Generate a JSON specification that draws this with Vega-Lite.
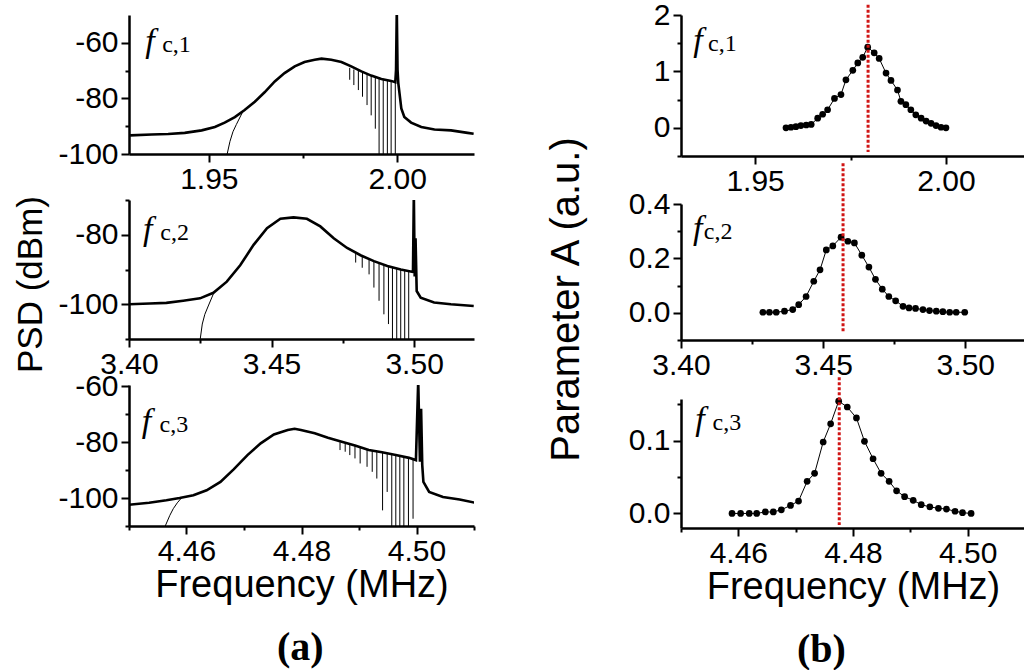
{
  "$schema": "https://vega.github.io/schema/vega-lite/v6.json",
  "padding": {"left": 12, "top": 0, "right": 0, "bottom": 0},
  "datasets": {
    "psd1": [
      {"f": 1.9291, "v": -93.3}, {"f": 1.9348, "v": -93.0}, {"f": 1.9392, "v": -92.8}, {"f": 1.9436, "v": -92.4},
      {"f": 1.9481, "v": -91.5}, {"f": 1.9516, "v": -90.3}, {"f": 1.9542, "v": -88.7}, {"f": 1.9569, "v": -86.7},
      {"f": 1.9595, "v": -84.2}, {"f": 1.9622, "v": -81.2}, {"f": 1.9648, "v": -77.8}, {"f": 1.9675, "v": -73.9},
      {"f": 1.9701, "v": -70.9}, {"f": 1.9728, "v": -68.5}, {"f": 1.9754, "v": -66.9}, {"f": 1.9781, "v": -66.1},
      {"f": 1.9799, "v": -65.7}, {"f": 1.9825, "v": -66.1}, {"f": 1.9852, "v": -66.9}, {"f": 1.9878, "v": -68.5},
      {"f": 1.9905, "v": -70.3}, {"f": 1.9931, "v": -71.8}, {"f": 1.9958, "v": -73.0}, {"f": 1.9984, "v": -73.7},
      {"f": 1.9995, "v": -74.2}, {"f": 1.9997, "v": -69.7}, {"f": 1.9999, "v": -48}, {"f": 2.0001, "v": -69.7},
      {"f": 2.0003, "v": -74.5}, {"f": 2.0011, "v": -83.6}, {"f": 2.0019, "v": -86.7}, {"f": 2.0037, "v": -88.7},
      {"f": 2.0064, "v": -90.3}, {"f": 2.0099, "v": -91.2}, {"f": 2.0143, "v": -91.5}, {"f": 2.0187, "v": -92.4},
      {"f": 2.0203, "v": -92.7}
    ],
    "dips1": [
      {"f": 1.9874, "v": -69.0, "v2": -73.3}, {"f": 1.9885, "v": -69.6, "v2": -75.2}, {"f": 1.9897, "v": -70.0, "v2": -77.0},
      {"f": 1.9908, "v": -70.6, "v2": -79.4}, {"f": 1.9920, "v": -71.2, "v2": -82.4}, {"f": 1.9931, "v": -71.8, "v2": -86.1},
      {"f": 1.9942, "v": -72.2, "v2": -90.9}, {"f": 1.9952, "v": -72.7, "v2": -100}, {"f": 1.9963, "v": -73.0, "v2": -100},
      {"f": 1.9974, "v": -73.4, "v2": -100}, {"f": 1.9984, "v": -73.7, "v2": -100}, {"f": 1.9995, "v": -74.0, "v2": -100}
    ],
    "fit1": [
      {"f": 1.9547, "v": -101}, {"f": 1.9556, "v": -95.5}, {"f": 1.9564, "v": -92.0}, {"f": 1.9573, "v": -89.4}, {"f": 1.9590, "v": -84.8}
    ],
    "psd2": [
      {"f": 3.4000, "v": -100.0}, {"f": 3.4073, "v": -99.8}, {"f": 3.4131, "v": -99.6}, {"f": 3.4190, "v": -99.0},
      {"f": 3.4249, "v": -98.3}, {"f": 3.4296, "v": -96.7}, {"f": 3.4343, "v": -93.5}, {"f": 3.4390, "v": -88.8},
      {"f": 3.4437, "v": -82.9}, {"f": 3.4484, "v": -78.1}, {"f": 3.4531, "v": -75.4}, {"f": 3.4577, "v": -75.0},
      {"f": 3.4624, "v": -75.4}, {"f": 3.4671, "v": -77.6}, {"f": 3.4718, "v": -81.0}, {"f": 3.4765, "v": -83.8},
      {"f": 3.4812, "v": -85.9}, {"f": 3.4859, "v": -87.6}, {"f": 3.4906, "v": -89.0}, {"f": 3.4953, "v": -90.0},
      {"f": 3.4996, "v": -90.7}, {"f": 3.4999, "v": -68}, {"f": 3.5002, "v": -92}, {"f": 3.5005, "v": -81},
      {"f": 3.5009, "v": -96.2}, {"f": 3.5023, "v": -98.1}, {"f": 3.5070, "v": -99.5}, {"f": 3.5129, "v": -100.0},
      {"f": 3.5209, "v": -100.5}
    ],
    "dips2": [
      {"f": 3.4795, "v": -85.2, "v2": -88.0}, {"f": 3.4818, "v": -86.0, "v2": -89.5}, {"f": 3.4842, "v": -86.9, "v2": -91.4},
      {"f": 3.4859, "v": -87.6, "v2": -95.2}, {"f": 3.4877, "v": -88.1, "v2": -99.0}, {"f": 3.4894, "v": -88.6, "v2": -102.9},
      {"f": 3.4910, "v": -89.0, "v2": -105.7}, {"f": 3.4924, "v": -89.4, "v2": -110}, {"f": 3.4939, "v": -89.7, "v2": -110},
      {"f": 3.4953, "v": -90.0, "v2": -110}, {"f": 3.4967, "v": -90.2, "v2": -110}, {"f": 3.4981, "v": -90.5, "v2": -110}
    ],
    "fit2": [
      {"f": 3.4249, "v": -110.5}, {"f": 3.4257, "v": -105.7}, {"f": 3.4266, "v": -102.9}, {"f": 3.4278, "v": -100.5}, {"f": 3.4296, "v": -97.0}
    ],
    "psd3": [
      {"f": 4.4499, "v": -102.4}, {"f": 4.4535, "v": -101.7}, {"f": 4.4565, "v": -100.8}, {"f": 4.4588, "v": -100.0},
      {"f": 4.4612, "v": -99.0}, {"f": 4.4635, "v": -97.2}, {"f": 4.4659, "v": -94.2}, {"f": 4.4682, "v": -89.7},
      {"f": 4.4706, "v": -84.6}, {"f": 4.4729, "v": -80.4}, {"f": 4.4752, "v": -77.2}, {"f": 4.4776, "v": -75.6},
      {"f": 4.4788, "v": -75.2}, {"f": 4.4799, "v": -75.6}, {"f": 4.4823, "v": -76.8}, {"f": 4.4846, "v": -78.4},
      {"f": 4.4870, "v": -79.8}, {"f": 4.4893, "v": -81.2}, {"f": 4.4917, "v": -82.8}, {"f": 4.4940, "v": -83.6},
      {"f": 4.4964, "v": -84.6}, {"f": 4.4987, "v": -85.6}, {"f": 4.4999, "v": -86.4}, {"f": 4.5003, "v": -58},
      {"f": 4.5006, "v": -87}, {"f": 4.5008, "v": -68}, {"f": 4.5010, "v": -88.2}, {"f": 4.5012, "v": -94.2},
      {"f": 4.5022, "v": -97.8}, {"f": 4.5046, "v": -99.6}, {"f": 4.5075, "v": -100.5}, {"f": 4.5103, "v": -101.7}
    ],
    "dips3": [
      {"f": 4.4867, "v": -80.0, "v2": -82.8}, {"f": 4.4876, "v": -80.5, "v2": -83.4}, {"f": 4.4884, "v": -81.0, "v2": -84.6},
      {"f": 4.4893, "v": -81.2, "v2": -85.8}, {"f": 4.4902, "v": -82.0, "v2": -87.6}, {"f": 4.4914, "v": -82.6, "v2": -88.8},
      {"f": 4.4923, "v": -83.0, "v2": -90.6}, {"f": 4.4931, "v": -83.3, "v2": -93.0}, {"f": 4.4941, "v": -83.6, "v2": -104.4},
      {"f": 4.4949, "v": -84.0, "v2": -97.8}, {"f": 4.4957, "v": -84.3, "v2": -110}, {"f": 4.4964, "v": -84.6, "v2": -110},
      {"f": 4.4971, "v": -85.0, "v2": -110}, {"f": 4.4978, "v": -85.2, "v2": -110}, {"f": 4.4986, "v": -85.5, "v2": -110},
      {"f": 4.4994, "v": -86.0, "v2": -107.4}
    ],
    "fit3": [
      {"f": 4.4562, "v": -110.5}, {"f": 4.4571, "v": -106.2}, {"f": 4.4577, "v": -103.8}, {"f": 4.4584, "v": -101.7}, {"f": 4.4591, "v": -100.0}
    ],
    "a1": [
      {"f": 1.9581, "v": 0.00}, {"f": 1.9594, "v": 0.01}, {"f": 1.9607, "v": 0.02}, {"f": 1.9620, "v": 0.04},
      {"f": 1.9634, "v": 0.05}, {"f": 1.9647, "v": 0.06}, {"f": 1.9664, "v": 0.17}, {"f": 1.9677, "v": 0.24},
      {"f": 1.9690, "v": 0.32}, {"f": 1.9708, "v": 0.52}, {"f": 1.9725, "v": 0.59}, {"f": 1.9738, "v": 0.85},
      {"f": 1.9756, "v": 1.02}, {"f": 1.9769, "v": 1.15}, {"f": 1.9782, "v": 1.25}, {"f": 1.9795, "v": 1.43},
      {"f": 1.9812, "v": 1.33}, {"f": 1.9825, "v": 1.23}, {"f": 1.9843, "v": 0.97}, {"f": 1.9856, "v": 0.84},
      {"f": 1.9873, "v": 0.67}, {"f": 1.9882, "v": 0.47}, {"f": 1.9895, "v": 0.41}, {"f": 1.9908, "v": 0.32},
      {"f": 1.9921, "v": 0.23}, {"f": 1.9935, "v": 0.17}, {"f": 1.9948, "v": 0.12}, {"f": 1.9961, "v": 0.08},
      {"f": 1.9974, "v": 0.04}, {"f": 1.9987, "v": 0.01}, {"f": 2.0000, "v": 0.00}
    ],
    "a2": [
      {"f": 3.4288, "v": 0.002}, {"f": 3.4311, "v": 0.002}, {"f": 3.4335, "v": 0.002}, {"f": 3.4364, "v": 0.006},
      {"f": 3.4393, "v": 0.012}, {"f": 3.4414, "v": 0.030}, {"f": 3.4440, "v": 0.060}, {"f": 3.4467, "v": 0.116},
      {"f": 3.4489, "v": 0.158}, {"f": 3.4511, "v": 0.231}, {"f": 3.4534, "v": 0.246}, {"f": 3.4563, "v": 0.278},
      {"f": 3.4587, "v": 0.263}, {"f": 3.4610, "v": 0.257}, {"f": 3.4636, "v": 0.212}, {"f": 3.4661, "v": 0.168},
      {"f": 3.4684, "v": 0.123}, {"f": 3.4708, "v": 0.087}, {"f": 3.4731, "v": 0.060}, {"f": 3.4755, "v": 0.044},
      {"f": 3.4781, "v": 0.024}, {"f": 3.4802, "v": 0.018}, {"f": 3.4825, "v": 0.016}, {"f": 3.4851, "v": 0.012},
      {"f": 3.4874, "v": 0.008}, {"f": 3.4898, "v": 0.006}, {"f": 3.4921, "v": 0.004}, {"f": 3.4945, "v": 0.002},
      {"f": 3.4968, "v": 0.002}, {"f": 3.4998, "v": 0.002}
    ],
    "a3": [
      {"f": 4.4589, "v": 0.000}, {"f": 4.4604, "v": 0.000}, {"f": 4.4619, "v": 0.000}, {"f": 4.4632, "v": 0.000},
      {"f": 4.4647, "v": 0.002}, {"f": 4.4661, "v": 0.002}, {"f": 4.4675, "v": 0.005}, {"f": 4.4691, "v": 0.011},
      {"f": 4.4705, "v": 0.017}, {"f": 4.4720, "v": 0.044}, {"f": 4.4733, "v": 0.055}, {"f": 4.4748, "v": 0.098},
      {"f": 4.4761, "v": 0.123}, {"f": 4.4775, "v": 0.154}, {"f": 4.4790, "v": 0.146}, {"f": 4.4806, "v": 0.131},
      {"f": 4.4820, "v": 0.099}, {"f": 4.4835, "v": 0.075}, {"f": 4.4849, "v": 0.055}, {"f": 4.4863, "v": 0.044},
      {"f": 4.4876, "v": 0.031}, {"f": 4.4890, "v": 0.023}, {"f": 4.4905, "v": 0.018}, {"f": 4.4919, "v": 0.012},
      {"f": 4.4934, "v": 0.009}, {"f": 4.4949, "v": 0.007}, {"f": 4.4963, "v": 0.006}, {"f": 4.4978, "v": 0.003},
      {"f": 4.4991, "v": 0.001}, {"f": 4.5006, "v": 0.000}
    ]
  },
  "hconcat": [
    {
      "title": {"text": "(a)", "orient": "bottom", "frame": "group", "font": "Liberation Serif", "fontWeight": "bold", "fontSize": 40, "color": "black", "offset": 24, "dx": 148},
      "bounds": "flush",
      "spacing": 46,
      "vconcat": [
        {
          "width": 345, "height": 139,
          "encoding": {
            "x": {"field": "f", "type": "quantitative", "scale": {"domain": [1.9288, 2.0204], "nice": false, "zero": false},
              "axis": {"title": null, "values": [1.95, 1.975, 2.0],
                "labelExpr": "abs(datum.value/0.05-round(datum.value/0.05))>0.1 ? '' : format(datum.value,'.2f')",
                "tickSize": {"condition": {"test": "abs(datum.value/0.05-round(datum.value/0.05))>0.1", "value": 4}, "value": 8}}},
            "y": {"field": "v", "type": "quantitative", "scale": {"domain": [-100, -50], "nice": false, "zero": false},
              "axis": {"title": null, "values": [-100, -90, -80, -70, -60],
                "labelExpr": "datum.value % 20 != 0 ? '' : '' + datum.value",
                "tickSize": {"condition": {"test": "datum.value % 20 != 0", "value": 4}, "value": 8}}}
          },
          "layer": [
            {"data": {"name": "psd1"}, "mark": {"type": "line", "color": "black", "strokeWidth": 2.6, "clip": true}},
            {"data": {"name": "dips1"}, "mark": {"type": "rule", "color": "black", "strokeWidth": 1, "clip": true}, "encoding": {"y2": {"field": "v2"}}},
            {"data": {"name": "fit1"}, "mark": {"type": "line", "color": "black", "strokeWidth": 1, "clip": true}},
            {"data": {"values": [{"f": 1.9331, "v": -63.3}]}, "mark": {"type": "text", "text": "f", "font": "Liberation Serif", "fontStyle": "italic", "fontSize": 34, "align": "left", "baseline": "alphabetic", "color": "black"}},
            {"data": {"values": [{"f": 1.9376, "v": -63.3}]}, "mark": {"type": "text", "text": "c,1", "font": "Liberation Serif", "fontSize": 24, "align": "left", "baseline": "alphabetic", "color": "black"}}
          ]
        },
        {
          "width": 345, "height": 139,
          "encoding": {
            "x": {"field": "f", "type": "quantitative", "scale": {"domain": [3.40, 3.521], "nice": false, "zero": false},
              "axis": {"title": null, "values": [3.40, 3.425, 3.45, 3.475, 3.50],
                "labelExpr": "abs(datum.value/0.05-round(datum.value/0.05))>0.1 ? '' : format(datum.value,'.2f')",
                "tickSize": {"condition": {"test": "abs(datum.value/0.05-round(datum.value/0.05))>0.1", "value": 4}, "value": 8}}},
            "y": {"field": "v", "type": "quantitative", "scale": {"domain": [-110, -70], "nice": false, "zero": false},
              "axis": {"title": "PSD (dBm)", "titleFontSize": 35, "titleX": -99, "titleY": 84, "titleBaseline": "middle",
                "values": [-110, -100, -90, -80, -70],
                "labelExpr": "datum.value % 20 != 0 ? '' : '' + datum.value",
                "tickSize": {"condition": {"test": "datum.value % 20 != 0", "value": 4}, "value": 8}}}
          },
          "layer": [
            {"data": {"name": "psd2"}, "mark": {"type": "line", "color": "black", "strokeWidth": 2.6, "clip": true}},
            {"data": {"name": "dips2"}, "mark": {"type": "rule", "color": "black", "strokeWidth": 1, "clip": true}, "encoding": {"y2": {"field": "v2"}}},
            {"data": {"name": "fit2"}, "mark": {"type": "line", "color": "black", "strokeWidth": 1, "clip": true}},
            {"data": {"values": [{"f": 3.4049, "v": -81.4}]}, "mark": {"type": "text", "text": "f", "font": "Liberation Serif", "fontStyle": "italic", "fontSize": 34, "align": "left", "baseline": "alphabetic", "color": "black"}},
            {"data": {"values": [{"f": 3.4110, "v": -81.4}]}, "mark": {"type": "text", "text": "c,2", "font": "Liberation Serif", "fontSize": 24, "align": "left", "baseline": "alphabetic", "color": "black"}}
          ]
        },
        {
          "width": 345, "height": 141,
          "encoding": {
            "x": {"field": "f", "type": "quantitative", "scale": {"domain": [4.45, 4.51], "nice": false, "zero": false},
              "axis": {"title": "Frequency (MHz)", "titleFontSize": 38, "titlePadding": 0,
                "values": [4.45, 4.46, 4.47, 4.48, 4.49, 4.50, 4.51],
                "labelExpr": "abs(datum.value/0.02-round(datum.value/0.02))>0.1 ? '' : format(datum.value,'.2f')",
                "tickSize": {"condition": {"test": "abs(datum.value/0.02-round(datum.value/0.02))>0.1", "value": 4}, "value": 8}}},
            "y": {"field": "v", "type": "quantitative", "scale": {"domain": [-110, -59.5], "nice": false, "zero": false},
              "axis": {"title": null, "values": [-110, -100, -90, -80, -70, -60],
                "labelExpr": "datum.value % 20 != 0 ? '' : '' + datum.value",
                "tickSize": {"condition": {"test": "datum.value % 20 != 0", "value": 4}, "value": 8}}}
          },
          "layer": [
            {"data": {"name": "psd3"}, "mark": {"type": "line", "color": "black", "strokeWidth": 2.6, "clip": true}},
            {"data": {"name": "dips3"}, "mark": {"type": "rule", "color": "black", "strokeWidth": 1, "clip": true}, "encoding": {"y2": {"field": "v2"}}},
            {"data": {"name": "fit3"}, "mark": {"type": "line", "color": "black", "strokeWidth": 1, "clip": true}},
            {"data": {"values": [{"f": 4.4522, "v": -76.3}]}, "mark": {"type": "text", "text": "f", "font": "Liberation Serif", "fontStyle": "italic", "fontSize": 34, "align": "left", "baseline": "alphabetic", "color": "black"}},
            {"data": {"values": [{"f": 4.4553, "v": -76.3}]}, "mark": {"type": "text", "text": "c,3", "font": "Liberation Serif", "fontSize": 24, "align": "left", "baseline": "alphabetic", "color": "black"}}
          ]
        }
      ]
    },
    {
      "title": {"text": "(b)", "orient": "bottom", "frame": "group", "font": "Liberation Serif", "fontWeight": "bold", "fontSize": 40, "color": "black", "offset": 24, "dx": 116},
      "bounds": "flush",
      "spacing": 48,
      "vconcat": [
        {
          "width": 344, "height": 141,
          "encoding": {
            "x": {"field": "f", "type": "quantitative", "scale": {"domain": [1.9306, 2.0207], "nice": false, "zero": false},
              "axis": {"title": null, "values": [1.95, 1.975, 2.0],
                "labelExpr": "abs(datum.value/0.05-round(datum.value/0.05))>0.1 ? '' : format(datum.value,'.2f')",
                "tickSize": {"condition": {"test": "abs(datum.value/0.05-round(datum.value/0.05))>0.1", "value": 4}, "value": 8}}},
            "y": {"field": "v", "type": "quantitative", "scale": {"domain": [-0.5, 2], "nice": false, "zero": false},
              "axis": {"title": null, "values": [-0.5, 0, 0.5, 1, 1.5, 2],
                "labelExpr": "datum.value % 1 != 0 ? '' : '' + datum.value",
                "tickSize": {"condition": {"test": "datum.value % 1 != 0", "value": 4}, "value": 8}}}
          },
          "layer": [
            {"data": {"name": "a1"}, "mark": {"type": "line", "color": "black", "strokeWidth": 1}},
            {"data": {"name": "a1"}, "mark": {"type": "point", "filled": true, "color": "black", "size": 45, "opacity": 1}},
            {"data": {"values": [{"f": 1.9796, "v": 2.18, "v2": -0.43}]}, "mark": {"type": "rule", "color": "#d01515", "strokeWidth": 3, "strokeDash": [3, 2], "clip": false}, "encoding": {"y2": {"field": "v2"}}},
            {"data": {"values": [{"f": 1.9338, "v": 1.37}]}, "mark": {"type": "text", "text": "f", "font": "Liberation Serif", "fontStyle": "italic", "fontSize": 34, "align": "left", "baseline": "alphabetic", "color": "black"}},
            {"data": {"values": [{"f": 1.9377, "v": 1.37}]}, "mark": {"type": "text", "text": "c,1", "font": "Liberation Serif", "fontSize": 24, "align": "left", "baseline": "alphabetic", "color": "black"}}
          ]
        },
        {
          "bounds": "flush",
          "spacing": 59,
          "vconcat": [
            {
              "width": 344, "height": 136,
              "encoding": {
                "x": {"field": "f", "type": "quantitative", "scale": {"domain": [3.40, 3.521], "nice": false, "zero": false},
                  "axis": {"title": null, "values": [3.40, 3.425, 3.45, 3.475, 3.50],
                    "labelExpr": "abs(datum.value/0.05-round(datum.value/0.05))>0.1 ? '' : format(datum.value,'.2f')",
                    "tickSize": {"condition": {"test": "abs(datum.value/0.05-round(datum.value/0.05))>0.1", "value": 4}, "value": 8}}},
                "y": {"field": "v", "type": "quantitative", "scale": {"domain": [-0.1, 0.4], "nice": false, "zero": false},
                  "axis": {"title": "Parameter A (a.u.)", "titleFontSize": 40, "titleX": -115, "titleY": 95, "titleBaseline": "middle",
                    "values": [-0.1, 0, 0.1, 0.2, 0.3, 0.4],
                    "labelExpr": "abs(datum.value/0.2-round(datum.value/0.2))>0.1 ? '' : format(datum.value,'.1f')",
                    "tickSize": {"condition": {"test": "abs(datum.value/0.2-round(datum.value/0.2))>0.1", "value": 4}, "value": 8}}}
              },
              "layer": [
                {"data": {"name": "a2"}, "mark": {"type": "line", "color": "black", "strokeWidth": 1}},
                {"data": {"name": "a2"}, "mark": {"type": "point", "filled": true, "color": "black", "size": 45, "opacity": 1}},
                {"data": {"values": [{"f": 3.457, "v": 0.55, "v2": -0.07}]}, "mark": {"type": "rule", "color": "#d01515", "strokeWidth": 3, "strokeDash": [3, 2], "clip": false}, "encoding": {"y2": {"field": "v2"}}},
                {"data": {"values": [{"f": 3.4042, "v": 0.272}]}, "mark": {"type": "text", "text": "f", "font": "Liberation Serif", "fontStyle": "italic", "fontSize": 34, "align": "left", "baseline": "alphabetic", "color": "black"}},
                {"data": {"values": [{"f": 3.4080, "v": 0.272}]}, "mark": {"type": "text", "text": "c,2", "font": "Liberation Serif", "fontSize": 24, "align": "left", "baseline": "alphabetic", "color": "black"}}
              ]
            },
            {
              "width": 344, "height": 129,
              "encoding": {
                "x": {"field": "f", "type": "quantitative", "scale": {"domain": [4.45, 4.51], "nice": false, "zero": false},
                  "axis": {"title": "Frequency (MHz)", "titleFontSize": 38, "titlePadding": 0,
                    "values": [4.45, 4.46, 4.47, 4.48, 4.49, 4.50, 4.51],
                    "labelExpr": "abs(datum.value/0.02-round(datum.value/0.02))>0.1 ? '' : format(datum.value,'.2f')",
                    "tickSize": {"condition": {"test": "abs(datum.value/0.02-round(datum.value/0.02))>0.1", "value": 4}, "value": 8}}},
                "y": {"field": "v", "type": "quantitative", "scale": {"domain": [-0.02, 0.157], "nice": false, "zero": false},
                  "axis": {"title": null, "values": [0, 0.05, 0.1, 0.15],
                    "labelExpr": "abs(datum.value/0.1-round(datum.value/0.1))>0.1 ? '' : format(datum.value,'.1f')",
                    "tickSize": {"condition": {"test": "abs(datum.value/0.1-round(datum.value/0.1))>0.1", "value": 4}, "value": 8}}}
              },
              "layer": [
                {"data": {"name": "a3"}, "mark": {"type": "line", "color": "black", "strokeWidth": 1}},
                {"data": {"name": "a3"}, "mark": {"type": "point", "filled": true, "color": "black", "size": 45, "opacity": 1}},
                {"data": {"values": [{"f": 4.4776, "v": 0.187, "v2": -0.016}]}, "mark": {"type": "rule", "color": "#d01515", "strokeWidth": 3, "strokeDash": [3, 2], "clip": false}, "encoding": {"y2": {"field": "v2"}}},
                {"data": {"values": [{"f": 4.4525, "v": 0.115}]}, "mark": {"type": "text", "text": "f", "font": "Liberation Serif", "fontStyle": "italic", "fontSize": 34, "align": "left", "baseline": "alphabetic", "color": "black"}},
                {"data": {"values": [{"f": 4.4555, "v": 0.115}]}, "mark": {"type": "text", "text": "c,3", "font": "Liberation Serif", "fontSize": 24, "align": "left", "baseline": "alphabetic", "color": "black"}}
              ]
            }
          ]
        }
      ]
    }
  ],
  "bounds": "flush",
  "spacing": 552,
  "config": {
    "view": {"stroke": null},
    "axis": {"grid": false, "domainColor": "black", "domainWidth": 2.5, "tickColor": "black", "tickWidth": 2,
      "labelFont": "Liberation Sans", "labelFontSize": 30, "labelColor": "black", "labelFlush": false, "labelOverlap": false, "labelBound": false,
      "titleFont": "Liberation Sans", "titleFontWeight": "normal", "titleColor": "black"},
    "axisX": {"labelPadding": 2},
    "axisY": {"labelPadding": 3}
  }
}
